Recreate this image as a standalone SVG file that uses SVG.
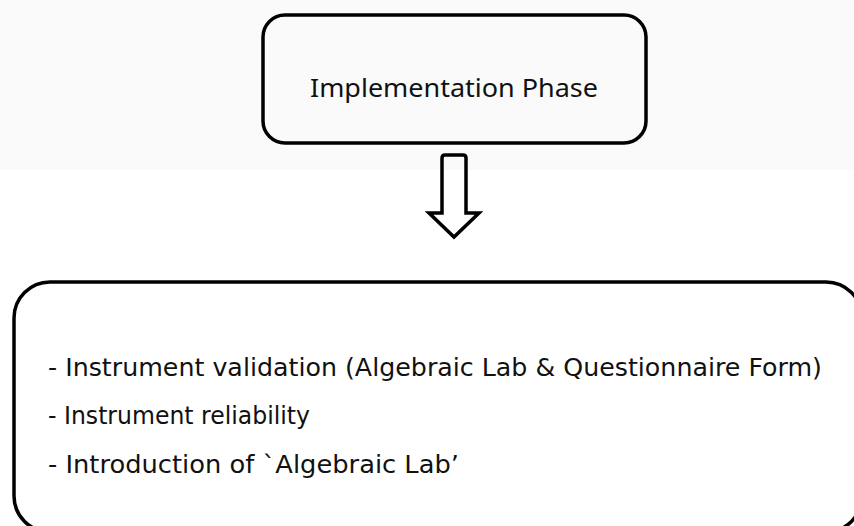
<svg xmlns="http://www.w3.org/2000/svg" width="854" height="526" viewBox="0 0 854 526">
<style>
.box{fill:none;stroke:#000;stroke-width:3.5}
.t{font-family:"DejaVu Sans",Verdana,sans-serif;font-size:25px;fill:#111}
.h{font-family:"Noto Sans","Open Sans",sans-serif;font-size:26px;fill:#111}
</style>
<rect x="0" y="0" width="854" height="170" fill="#fafafa"/>
<rect x="0" y="170" width="854" height="356" fill="#ffffff"/>
<g id="node-implementation">
<rect class="box" x="263" y="15" width="383" height="128" rx="22"/>
<text class="h" x="310" y="97" textLength="288" lengthAdjust="spacingAndGlyphs">Implementation Phase</text>
</g>
<g id="connectors">
<path class="box" stroke-linejoin="miter" d="M442,213 L442,158 Q442,155 445,155 L463,155 Q466,155 466,158 L466,213 L479,213 L454,237 L429,213 Z"/>
</g>
<g id="node-activities">
<rect class="box" x="14" y="282" width="848" height="250" rx="36"/>
<text class="t" x="48" y="376" textLength="774" lengthAdjust="spacingAndGlyphs">- Instrument validation (Algebraic Lab &amp; Questionnaire Form)</text>
<text class="t" x="48" y="424" textLength="262" lengthAdjust="spacingAndGlyphs">- Instrument reliability</text>
<text class="t" x="48" y="473" textLength="411" lengthAdjust="spacingAndGlyphs">- Introduction of `Algebraic Lab’</text>
</g>
</svg>
